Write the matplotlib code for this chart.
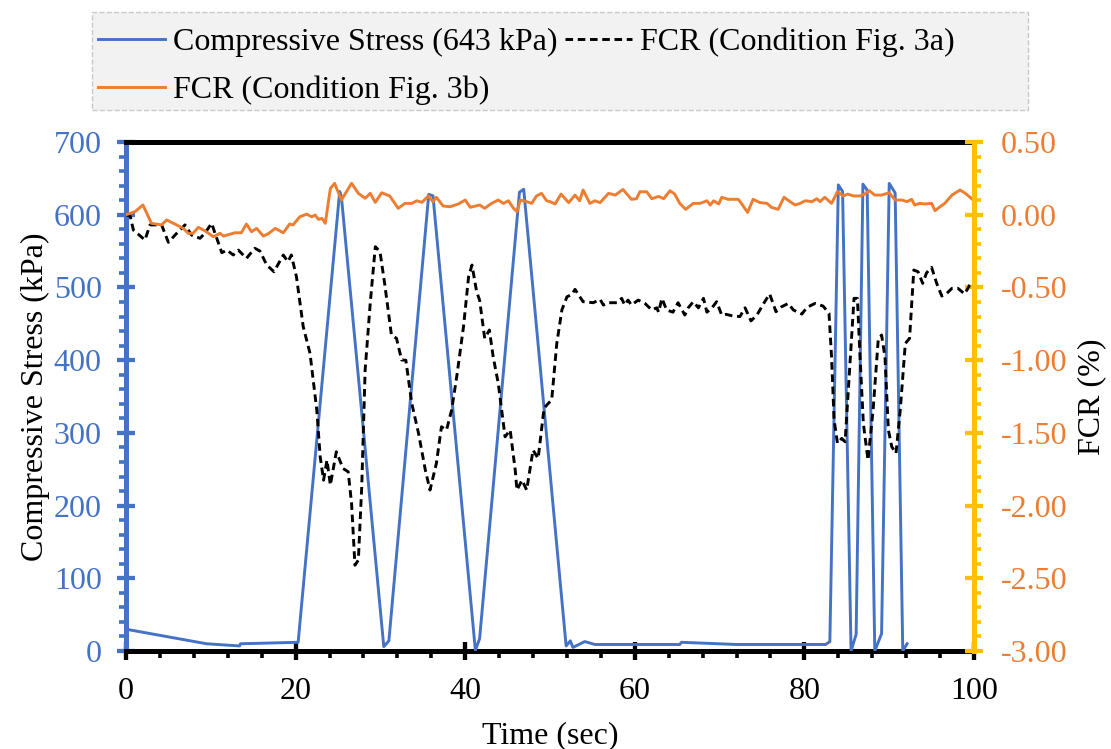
import matplotlib
matplotlib.use("Agg")
import matplotlib.pyplot as plt
from matplotlib.ticker import MultipleLocator, FormatStrFormatter
from matplotlib.patches import Rectangle

plt.rcParams['font.family'] = ['Liberation Serif', 'DejaVu Serif']

# ---- data ----
t_stress = [0, 9.5, 13.4, 13.5, 20.3, 25.2, 25.4, 30.4, 31.0, 35.7, 36.2, 41.2, 41.7,
            46.4, 46.9, 51.9, 52.4, 52.7, 54.1, 55.3, 65.3, 65.5, 72.0, 82.5, 83.0,
            84.0, 84.5, 85.5, 86.1, 86.9, 87.4, 88.3, 89.1, 90.0, 90.7, 91.6, 92.1]
stress = [30, 10, 7, 10, 12, 632, 625, 6, 14, 628, 626, 1, 17,
          631, 635, 7, 14, 5, 13, 9, 9, 12, 9, 9, 13,
          641, 632, 0, 23, 642, 634, 0, 24, 643, 630, 0, 10]

t_fcr_a = [0, 0.5, 0.87, 2.24, 2.83, 4.2, 5.0, 5.97, 6.96, 7.74, 8.73, 9.3, 10.1, 10.5,
           11.3, 11.9, 12.65, 13.25, 14.2, 15.2, 15.8, 16.6, 17.45, 18.55, 19.1, 19.5,
           20.1, 20.9, 21.7, 22.5, 22.9, 23.3, 23.7, 24.1, 24.8, 25.6, 26.2, 26.6, 27.0,
           27.4, 27.8, 28.2, 28.8, 29.4, 29.95, 30.5, 31.3, 31.9, 32.5, 33.0, 33.7, 34.5,
           35.3, 35.85, 36.6, 37.2, 37.8, 38.4, 39.0, 39.8, 40.4, 40.8, 41.35, 41.7, 42.3,
           42.85, 43.3, 43.9, 44.7, 45.3, 45.9, 46.1, 46.7, 47.25, 48.0, 48.6, 49.3, 49.8,
           50.2, 50.8, 51.4, 52.0, 52.55, 52.95, 53.9, 55.1, 55.9, 56.3, 56.9, 57.9, 58.45,
           58.8, 59.2, 59.6, 60.4, 61.2, 62.0, 62.6, 62.8, 63.2, 63.75, 64.5, 65.1, 65.9,
           66.3, 66.9, 67.5, 68.1, 68.5, 69.1, 69.65, 70.25, 70.8, 71.6, 72.4, 73.0, 73.7,
           74.4, 75.2, 75.9, 76.65, 77.3, 78.1, 78.7, 79.7, 80.3, 81.25, 82.2, 82.9, 83.2,
           83.5, 83.9, 84.4, 84.8, 85.2, 85.6, 85.85, 86.25, 86.56, 86.95, 87.5, 88.1,
           88.7, 89.1, 89.5, 89.9, 90.3, 90.8, 91.3, 91.9, 92.4, 92.65, 92.9, 93.4, 93.95,
           94.4, 95.0, 95.6, 96.2, 96.8, 97.4, 98.1, 98.9, 99.5, 100]
fcr_a = [0.0, -0.01, -0.105, -0.174, -0.07, -0.07, -0.19, -0.128, -0.07, -0.14, -0.162,
         -0.128, -0.059, -0.128, -0.261, -0.243, -0.277, -0.243, -0.30, -0.231, -0.25,
         -0.346, -0.392, -0.277, -0.323, -0.277, -0.426, -0.77, -0.953, -1.343, -1.664,
         -1.825, -1.687, -1.859, -1.63, -1.745, -1.767, -1.985, -2.41, -2.375, -1.87,
         -1.068, -0.609, -0.22, -0.254, -0.472, -0.827, -0.85, -0.999, -1.0, -1.297,
         -1.504, -1.756, -1.893, -1.71, -1.458, -1.48, -1.343, -1.114, -0.77, -0.426,
         -0.346, -0.53, -0.587, -0.85, -0.793, -0.977, -1.16, -1.527, -1.48, -1.756,
         -1.893, -1.825, -1.893, -1.618, -1.676, -1.33, -1.297, -1.274, -0.885, -0.655,
         -0.564, -0.55, -0.513, -0.598, -0.605, -0.582, -0.621, -0.605, -0.605, -0.575,
         -0.621, -0.587, -0.621, -0.587, -0.61, -0.655, -0.64, -0.67, -0.575, -0.655,
         -0.67, -0.605, -0.69, -0.64, -0.598, -0.64, -0.575, -0.67, -0.64, -0.598,
         -0.69, -0.685, -0.697, -0.70, -0.64, -0.73, -0.69, -0.61, -0.545, -0.667,
         -0.633, -0.61, -0.655, -0.683, -0.637, -0.61, -0.628, -0.678, -0.977, -1.41,
         -1.572, -1.538, -1.561, -1.183, -0.793, -0.575, -0.575, -0.977, -1.435, -1.687,
         -1.343, -0.862, -0.827, -0.977, -1.48, -1.595, -1.641, -1.343, -0.885, -0.85,
         -0.61, -0.38, -0.392, -0.472, -0.40, -0.362, -0.472, -0.559, -0.54, -0.506,
         -0.506, -0.545, -0.483, -0.449]

t_fcr_b = [0, 0.5, 1.06, 2.0, 3.0, 4.2, 4.8, 5.97, 6.76, 7.35, 7.9, 8.53, 9.3, 10.3, 11.1,
           11.5, 12.85, 13.6, 14.2, 14.8, 15.4, 16.2, 16.8, 17.6, 18.55, 19.3, 19.7, 20.5,
           21.3, 21.9, 22.3, 22.7, 23.1, 23.5, 24.1, 24.6, 25.4, 26.6, 27.4, 28.2, 28.8,
           29.4, 30.15, 31.1, 32.1, 32.9, 33.7, 34.3, 34.9, 35.65, 36.2, 36.6, 37.4, 38.2,
           39.2, 40.0, 40.6, 41.7, 42.3, 43.1, 43.9, 44.5, 45.1, 45.7, 46.1, 46.5, 47.25,
           47.85, 48.4, 49.0, 49.6, 50.0, 50.6, 51.3, 52.2, 52.95, 53.5, 53.9, 54.7, 55.3,
           55.9, 56.9, 57.7, 58.6, 59.6, 60.2, 60.6, 61.4, 62.0, 62.8, 63.4, 64.15, 64.7,
           65.3, 66.0, 66.9, 67.7, 68.5, 68.9, 69.3, 69.9, 70.25, 71.0, 72.2, 72.7, 73.3,
           73.95, 74.5, 74.8, 75.6, 76.1, 76.9, 77.6, 78.3, 78.9, 79.5, 80.1, 80.9, 81.45,
           81.85, 82.4, 83.2, 83.9, 84.6, 85.1, 85.8, 86.56, 87.1, 87.65, 88.3, 89.1, 90.0,
           90.7, 91.5, 92.1, 92.65, 93.0, 93.6, 94.2, 95.0, 95.4, 96.0, 96.55, 97.4, 98.35,
           99.1, 99.9]
fcr_b = [0.0, 0.01, 0.021, 0.067, -0.059, -0.07, -0.036, -0.07, -0.094, -0.128, -0.128,
         -0.087, -0.11, -0.151, -0.128, -0.147, -0.124, -0.124, -0.064, -0.117, -0.094,
         -0.147, -0.13, -0.094, -0.124, -0.064, -0.07, -0.014, 0.004, -0.014, -0.002,
         -0.032, -0.025, -0.059, 0.18, 0.216, 0.101, 0.216, 0.147, 0.113, 0.147, 0.085,
         0.151, 0.129, 0.044, 0.078, 0.078, 0.096, 0.085, 0.129, 0.09, 0.12, 0.06, 0.055,
         0.074, 0.101, 0.051, 0.067, 0.044, 0.078, 0.101, 0.078, 0.096, 0.044, 0.021,
         0.101, 0.09, 0.078, 0.129, 0.147, 0.096, 0.09, 0.074, 0.142, 0.083, 0.135, 0.096,
         0.17, 0.078, 0.096, 0.083, 0.147, 0.135, 0.174, 0.106, 0.11, 0.158, 0.158, 0.11,
         0.126, 0.11, 0.165, 0.142, 0.078, 0.037, 0.078, 0.078, 0.096, 0.067, 0.096,
         0.074, 0.12, 0.106, 0.106, 0.067, 0.016, 0.106, 0.09, 0.083, 0.078, 0.051, 0.037,
         0.12, 0.09, 0.067, 0.078, 0.096, 0.09, 0.11, 0.09, 0.12, 0.078, 0.158, 0.129,
         0.142, 0.129, 0.129, 0.142, 0.165, 0.135, 0.135, 0.151, 0.101, 0.101, 0.09,
         0.106, 0.067, 0.078, 0.074, 0.078, 0.028, 0.055, 0.078, 0.135, 0.17, 0.142, 0.101]

labels = ["Compressive Stress (643 kPa)", "FCR (Condition Fig. 3a)", "FCR (Condition Fig. 3b)"]

BLUE = '#4472C4'
ORANGE = '#ED7D31'
GOLD = '#FFC000'
FS = 23

fig = plt.figure(figsize=(11.11, 7.49), dpi=100)
ax = fig.add_axes([0.1134, 0.1308, 0.7633, 0.6796])
ax2 = ax.twinx()

LW = 2.1
l1, = ax.plot(t_stress, stress, color=BLUE, lw=LW, zorder=3)
l2, = ax2.plot(t_fcr_a, fcr_a, color='black', lw=LW, linestyle=(0, (2.6, 1.6)))
l3, = ax2.plot(t_fcr_b, fcr_b, color=ORANGE, lw=LW)

ax.set_xlim(0, 100)
ax.set_ylim(0, 700)
ax2.set_ylim(-3.0, 0.5)

ax.xaxis.set_major_locator(MultipleLocator(20))
ax.xaxis.set_minor_locator(MultipleLocator(4))
ax.yaxis.set_major_locator(MultipleLocator(100))
ax.yaxis.set_minor_locator(MultipleLocator(20))
ax2.yaxis.set_major_locator(MultipleLocator(0.5))
ax2.yaxis.set_minor_locator(MultipleLocator(0.1))
ax2.yaxis.set_major_formatter(FormatStrFormatter('%.2f'))

SPW = 3.6
for s in ['top', 'bottom']:
    ax.spines[s].set_color('black')
    ax.spines[s].set_linewidth(SPW)
ax.spines['left'].set_color(BLUE)
ax.spines['left'].set_linewidth(SPW)
ax.spines['right'].set_visible(False)
for s in ['top', 'bottom', 'left']:
    ax2.spines[s].set_visible(False)
ax2.spines['right'].set_color(GOLD)
ax2.spines['right'].set_linewidth(SPW)

ax.tick_params(axis='x', which='major', direction='inout', length=13, width=3.1,
               color='black', labelsize=FS, labelcolor='black', pad=12)
ax.tick_params(axis='x', which='minor', direction='out', length=5, width=2.6, color='black')
ax.tick_params(axis='y', which='major', direction='inout', length=13, width=3.1,
               color=BLUE, labelsize=FS, labelcolor=BLUE, pad=11)
ax.tick_params(axis='y', which='minor', direction='out', length=5, width=2.6, color=BLUE)
ax2.tick_params(axis='y', which='major', direction='inout', length=13, width=3.1,
                color=GOLD, labelsize=FS, labelcolor=ORANGE, pad=13)
ax2.tick_params(axis='y', which='minor', direction='out', length=5, width=2.6, color=GOLD)

ax.set_xlabel("Time (sec)", fontsize=FS, labelpad=11)
ax.set_ylabel("Compressive Stress (kPa)", fontsize=FS, labelpad=3)
ax2.set_ylabel("FCR (%)", fontsize=FS, labelpad=7, rotation=90)

# legend background box
fig.patches.append(Rectangle((0.0828, 0.8531), 0.8425, 0.1308, transform=fig.transFigure,
                             facecolor='#F2F2F2', edgecolor='#C8C8C8', linestyle='--',
                             lw=1.0, zorder=0))
fig.legend([l1, l3, l2], [labels[0], labels[2], labels[1]], ncol=2, loc='upper left',
           bbox_to_anchor=(0.088, 0.963), frameon=False, fontsize=FS,
           handlelength=2.1, handletextpad=0.25, columnspacing=0.25,
           labelspacing=0.58, borderpad=0, borderaxespad=0)

fig.savefig("out.png", dpi=100)
